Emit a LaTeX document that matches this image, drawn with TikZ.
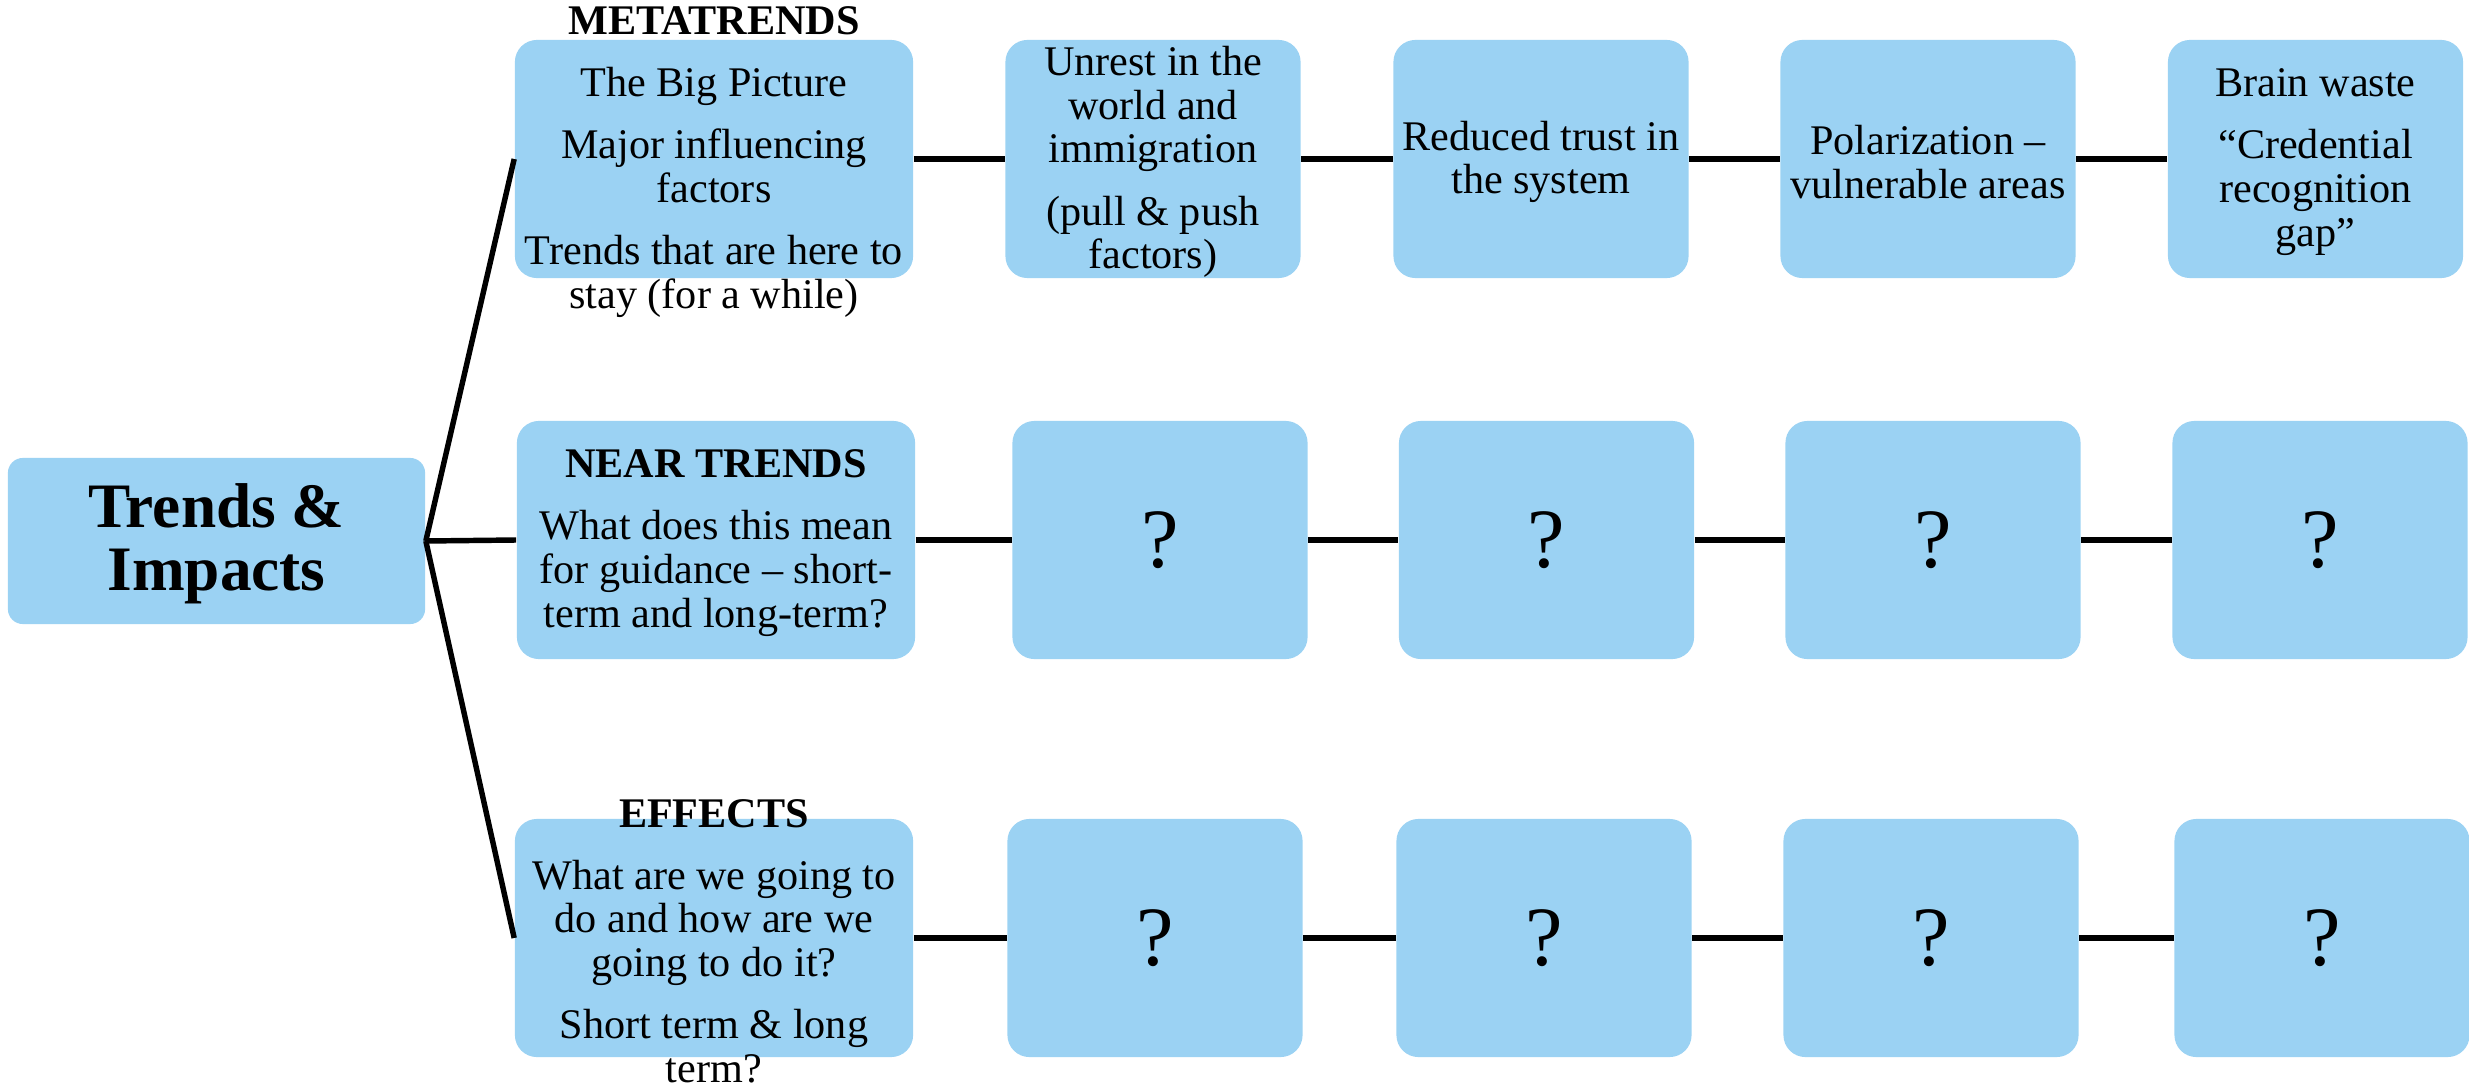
\documentclass[tikz,border=0pt]{standalone}
\usepackage{fontspec}
\setmainfont{Liberation Serif}
\definecolor{boxblue}{RGB}{155,210,243}
\tikzset{
  box/.style={fill=boxblue, draw=none, rounded corners=0.22cm, minimum height=2.38cm, inner sep=0pt},
  widebox/.style={box, minimum width=3.98cm},
  smallbox/.style={box, minimum width=2.95cm},
  mainbox/.style={fill=boxblue, draw=none, rounded corners=0.15cm, minimum width=4.17cm, minimum height=1.66cm, inner sep=0pt},
  txt/.style={align=center, inner sep=0pt, yshift=-0.03cm, font=\fontsize{12}{12.4}\selectfont},
  titletxt/.style={align=center, inner sep=0pt, yshift=-0.03cm, font=\bfseries\fontsize{18}{18}\selectfont},
  qmark/.style={inner sep=0pt, font=\fontsize{24}{24}\selectfont},
  link/.style={line width=1.95pt},
  branch/.style={line width=1.55pt},
}
\begin{document}
\begin{tikzpicture}[x=0.01cm, y=-0.01cm]
\useasboundingbox (0,0) rectangle (2469,1085);

% main box
\node[mainbox] (T) at (216.5,541) {};
\node[titletxt] (Tt) at (T.center) {Trends \&\\Impacts};

% row 1
\node[widebox]  (A1) at (714,159) {};
\node[smallbox] (A2) at (1153,159) {};
\node[smallbox] (A3) at (1541,159) {};
\node[smallbox] (A4) at (1928,159) {};
\node[smallbox] (A5) at (2315.5,159) {};

% row 2
\node[widebox]  (B1) at (716,540) {};
\node[smallbox] (B2) at (1160,540) {};
\node[smallbox] (B3) at (1546.5,540) {};
\node[smallbox] (B4) at (1933,540) {};
\node[smallbox] (B5) at (2320,540) {};

% row 3
\node[widebox]  (C1) at (714,938) {};
\node[smallbox] (C2) at (1155,938) {};
\node[smallbox] (C3) at (1544,938) {};
\node[smallbox] (C4) at (1931,938) {};
\node[smallbox] (C5) at (2322,938) {};

% connectors
\draw[branch] (T.east) -- (A1.west);
\draw[branch] (T.east) -- (B1.west);
\draw[branch] (T.east) -- (C1.west);
\draw[link] (A1) -- (A2);
\draw[link] (A2) -- (A3);
\draw[link] (A3) -- (A4);
\draw[link] (A4) -- (A5);
\draw[link] (B1) -- (B2);
\draw[link] (B2) -- (B3);
\draw[link] (B3) -- (B4);
\draw[link] (B4) -- (B5);
\draw[link] (C1) -- (C2);
\draw[link] (C2) -- (C3);
\draw[link] (C3) -- (C4);
\draw[link] (C4) -- (C5);

% texts row 1
\node[txt] (A1t) at (A1.center) {{\bfseries METATRENDS}\\[5.3pt]The Big Picture\\[5.3pt]Major influencing\\factors\\[5.3pt]Trends that are here to\\stay (for a while)};
\node[txt] (A2t) at (A2.center) {Unrest in the\\world and\\immigration\\[5.3pt](pull \& push\\factors)};
\node[txt] (A3t) at (A3.center) {Reduced trust in\\the system};
\node[txt] (A4t) at (A4.center) {Polarization –\\vulnerable areas};
\node[txt] (A5t) at (A5.center) {Brain waste\\[5.3pt]“Credential\\recognition\\gap”};

% texts row 2
\node[txt] (B1t) at (B1.center) {{\bfseries NEAR TRENDS}\\[5.3pt]What does this mean\\for guidance – short-\\term and long-term?};
\node[qmark] (B2t) at (B2.center) {?};
\node[qmark] (B3t) at (B3.center) {?};
\node[qmark] (B4t) at (B4.center) {?};
\node[qmark] (B5t) at (B5.center) {?};

% texts row 3
\node[txt] (C1t) at (C1.center) {{\bfseries EFFECTS}\\[5.3pt]What are we going to\\do and how are we\\going to do it?\\[5.3pt]Short term \& long\\term?};
\node[qmark] (C2t) at (C2.center) {?};
\node[qmark] (C3t) at (C3.center) {?};
\node[qmark] (C4t) at (C4.center) {?};
\node[qmark] (C5t) at (C5.center) {?};
\end{tikzpicture}
\end{document}
